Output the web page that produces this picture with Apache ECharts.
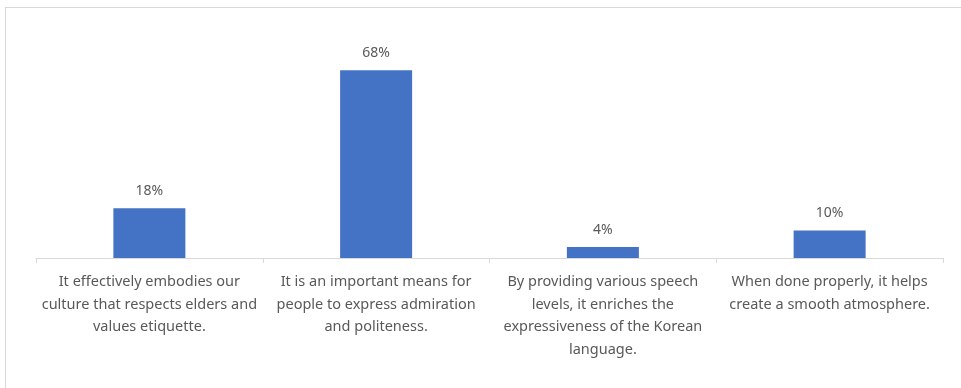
<!DOCTYPE html>
<html>
<head>
<meta charset="utf-8">
<script src="https://cdn.jsdelivr.net/npm/echarts@6/dist/echarts.min.js"></script>
<style>
  html, body { margin: 0; padding: 0; background: #fff; }
  #chart { width: 961px; height: 388px; }
</style>
</head>
<body>
<div id="chart"></div>
<script>
// Survey answers (wrapped onto lines as shown under each bar)
const categories = [
  'It effectively embodies our\nculture that respects elders and\nvalues etiquette.',
  'It is an important means for\npeople to express admiration\nand politeness.',
  'By providing various speech\nlevels, it enriches the\nexpressiveness of the Korean\nlanguage.',
  'When done properly, it helps\ncreate a smooth atmosphere.'
];
// Share of respondents, percent
const shares = [18, 68, 4, 10];

const chart = echarts.init(document.getElementById('chart'), null, { renderer: 'canvas' });

const textFont = '"Noto Sans", "Open Sans", sans-serif';
const textColor = '#595959';

chart.setOption({
  animation: false,
  backgroundColor: '#ffffff',
  graphic: [
    { type: 'line', silent: true, shape: { x1: 5, y1: 7.5, x2: 961, y2: 7.5 }, style: { stroke: '#d9d9d9', lineWidth: 1 } },
    { type: 'line', silent: true, shape: { x1: 5.5, y1: 7, x2: 5.5, y2: 388 }, style: { stroke: '#d9d9d9', lineWidth: 1 } }
  ],
  grid: { left: 36, right: 18, top: 37, bottom: 130, containLabel: false },
  xAxis: {
    type: 'category',
    data: categories,
    axisLine: { show: true, lineStyle: { color: '#d9d9d9', width: 1 } },
    axisTick: { show: true, length: 5, alignWithLabel: false, lineStyle: { color: '#d9d9d9' } },
    axisLabel: {
      interval: 0,
      margin: 13,
      color: textColor,
      fontFamily: textFont,
      fontSize: 14.5,
      lineHeight: 22.5,
      align: 'center',
      verticalAlign: 'top'
    }
  },
  yAxis: {
    type: 'value',
    min: 0,
    max: 80,
    show: false,
    splitLine: { show: false }
  },
  series: [{
    type: 'bar',
    data: shares,
    barWidth: 72,
    itemStyle: { color: '#4472c4' },
    label: {
      show: true,
      position: 'top',
      distance: 10,
      formatter: p => p.value + '%',
      color: textColor,
      fontFamily: textFont,
      fontSize: 14
    }
  }]
});
</script>
</body>
</html>
